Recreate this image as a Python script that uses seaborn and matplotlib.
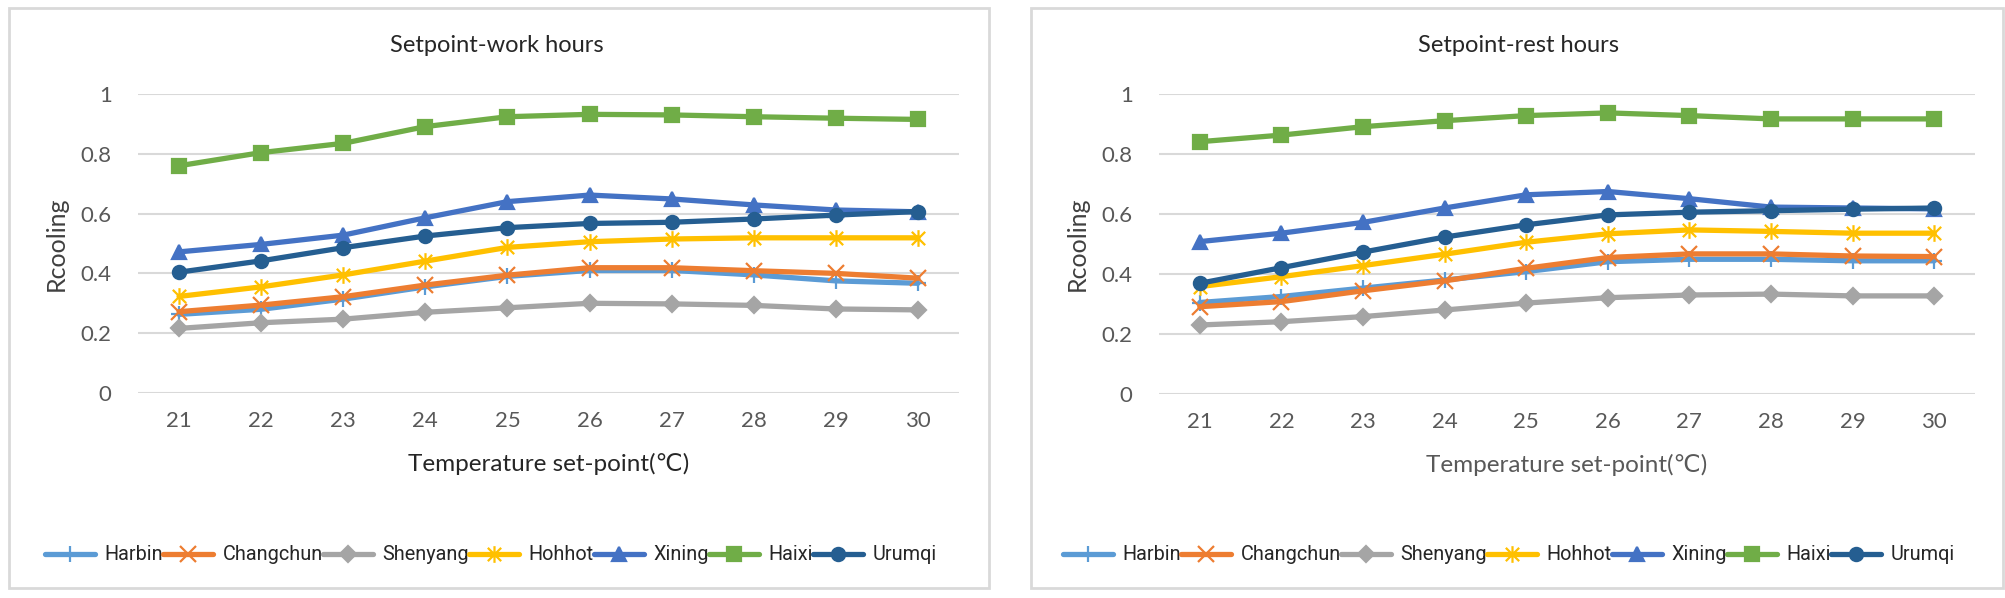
import numpy as np
import pandas as pd
import seaborn as sns
import matplotlib.pyplot as plt
from matplotlib.path import Path
from matplotlib.patches import Rectangle

setpoints = [21, 22, 23, 24, 25, 26, 27, 28, 29, 30]
cities = ["Harbin", "Changchun", "Shenyang", "Hohhot", "Xining", "Haixi", "Urumqi"]

# Rcooling during work hours
work_harbin = [0.263, 0.280, 0.314, 0.355, 0.390, 0.410, 0.410, 0.395, 0.375, 0.367]
work_changchun = [0.272, 0.294, 0.322, 0.361, 0.394, 0.419, 0.419, 0.409, 0.400, 0.384]
work_shenyang = [0.216, 0.235, 0.247, 0.270, 0.285, 0.300, 0.298, 0.293, 0.281, 0.278]
work_hohhot = [0.323, 0.355, 0.395, 0.441, 0.487, 0.506, 0.515, 0.519, 0.519, 0.519]
work_xining = [0.472, 0.497, 0.528, 0.586, 0.640, 0.662, 0.649, 0.629, 0.612, 0.606]
work_haixi = [0.760, 0.804, 0.835, 0.891, 0.924, 0.932, 0.930, 0.924, 0.919, 0.915]
work_urumqi = [0.404, 0.442, 0.486, 0.525, 0.553, 0.567, 0.571, 0.582, 0.595, 0.607]

# Rcooling during rest hours
rest_harbin = [0.305, 0.325, 0.353, 0.380, 0.408, 0.441, 0.449, 0.449, 0.444, 0.444]
rest_changchun = [0.291, 0.308, 0.344, 0.377, 0.419, 0.455, 0.467, 0.467, 0.460, 0.458]
rest_shenyang = [0.230, 0.241, 0.258, 0.280, 0.303, 0.321, 0.330, 0.333, 0.327, 0.327]
rest_hohhot = [0.358, 0.391, 0.428, 0.466, 0.506, 0.534, 0.547, 0.542, 0.536, 0.536]
rest_xining = [0.508, 0.536, 0.572, 0.620, 0.664, 0.675, 0.651, 0.623, 0.620, 0.617]
rest_haixi = [0.841, 0.863, 0.891, 0.911, 0.928, 0.937, 0.928, 0.917, 0.917, 0.917]
rest_urumqi = [0.369, 0.421, 0.473, 0.523, 0.564, 0.597, 0.606, 0.611, 0.616, 0.620]

work = [work_harbin, work_changchun, work_shenyang, work_hohhot, work_xining, work_haixi, work_urumqi]
rest = [rest_harbin, rest_changchun, rest_shenyang, rest_hohhot, rest_xining, rest_haixi, rest_urumqi]

colors = {"Harbin": "#5B9BD5", "Changchun": "#ED7D31", "Shenyang": "#A5A5A5", "Hohhot": "#FFC000",
          "Xining": "#4472C4", "Haixi": "#70AD47", "Urumqi": "#255E91"}

# excel-like star marker: vertical bar plus an x
star = Path([(0, -1), (0, 1), (-0.8, -0.8), (0.8, 0.8), (-0.8, 0.8), (0.8, -0.8)],
            [Path.MOVETO, Path.LINETO, Path.MOVETO, Path.LINETO, Path.MOVETO, Path.LINETO])
markers = {"Harbin": "+", "Changchun": "x", "Shenyang": "D", "Hohhot": star,
           "Xining": "^", "Haixi": "s", "Urumqi": "o"}
msizes = {"Harbin": 12, "Changchun": 11, "Shenyang": 8.5, "Hohhot": 12,
          "Xining": 10, "Haixi": 9.5, "Urumqi": 9.5}


def long_df(series):
    rows = []
    for c, vals in zip(cities, series):
        for t, v in zip(setpoints, vals):
            rows.append({"Setpoint": t, "Rcooling": v, "City": c})
    return pd.DataFrame(rows)


sns.set_style("white")
plt.rcParams['font.family'] = ['Lato', 'DejaVu Sans']

W, H = 2005, 598
fig = plt.figure(figsize=(W / 100, H / 100), dpi=100)

panels = [
    (work, "Setpoint-work hours", (138, 94, 959, 393), (9, 8, 989, 588), 497, "#262626"),
    (rest, "Setpoint-rest hours", (1159, 94, 1975, 394), (1031, 8, 2003, 588), 1518, "#595959"),
]

for series, title, (ax0, ay0, ax1, ay1), (bx0, by0, bx1, by1), tx, xcol in panels:
    fig.add_artist(Rectangle((bx0 / W, 1 - by1 / H), (bx1 - bx0) / W, (by1 - by0) / H,
                             transform=fig.transFigure, fill=False, edgecolor="#D9D9D9", linewidth=2))
    ax = fig.add_axes([ax0 / W, 1 - ay1 / H, (ax1 - ax0) / W, (ay1 - ay0) / H])
    df = long_df(series)
    sns.lineplot(data=df, x="Setpoint", y="Rcooling", hue="City", hue_order=cities,
                 palette=colors, legend=False, linewidth=3.8, ax=ax)
    for line, c in zip(ax.get_lines(), cities):
        line.set_marker(markers[c])
        line.set_markersize(msizes[c])
        line.set_markerfacecolor(colors[c])
        line.set_markeredgecolor(colors[c])
        line.set_markeredgewidth(1.6)
        line.set_solid_capstyle("round")
    ax.set_xlim(20.5, 30.5)
    ax.set_ylim(0, 1)
    ax.set_xticks(setpoints)
    ax.set_yticks([0, 0.2, 0.4, 0.6, 0.8, 1])
    ax.set_yticklabels(["0", "0.2", "0.4", "0.6", "0.8", "1"])
    ax.grid(axis="y", color="#D9D9D9", linewidth=1.5)
    ax.grid(axis="x", visible=False)
    ax.set_axisbelow(True)
    sns.despine(ax=ax, left=True, bottom=True)
    ax.tick_params(axis="both", length=0, labelsize=16, labelcolor="#595959")
    ax.tick_params(axis="x", pad=13)
    ax.tick_params(axis="y", pad=19)
    ax.set_xlabel("Temperature set-point(\u2103)", fontsize=17.5, color=xcol, labelpad=16)
    ax.set_ylabel("Rcooling", fontsize=18, color="#404040", labelpad=9)
    fig.text(tx / W, 1 - 46 / H, title, ha="center", va="center", fontsize=17, color="#262626")
    ax.legend(handles=ax.get_lines(), labels=cities, loc="center",
              bbox_to_anchor=(((bx0 + bx1) / 2 - 8) / W, 1 - 555 / H), bbox_transform=fig.transFigure,
              ncol=7, frameon=False, handlelength=2.5, handletextpad=0.5, columnspacing=0.0,
              prop={"family": "Roboto", "size": 14.3}, labelcolor="#262626")

fig.savefig("out.png", dpi=100)
